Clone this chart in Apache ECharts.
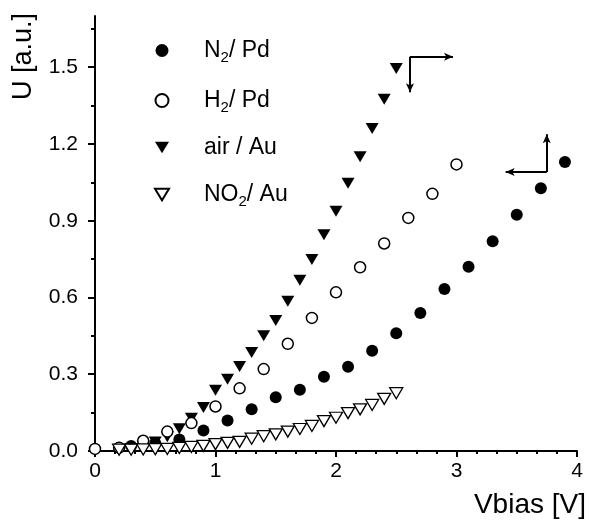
<!DOCTYPE html>
<html>
<head>
<meta charset="utf-8">
<script src="https://cdn.jsdelivr.net/npm/echarts@6/dist/echarts.min.js"></script>
<style>html,body{margin:0;padding:0;background:#fff;}#c{width:589px;height:521px;}</style>
</head>
<body>
<div id="c"></div>
<script>
// ---- data ----
const seriesNames = ['N2/ Pd', 'H2/ Pd', 'air / Au', 'NO2/ Au'];
const legendLabels = ['{a|N}{s|2}{a|/ Pd}', '{a|H}{s|2}{a|/ Pd}', '{a|air / Au}', '{a|NO}{s|2}{a|/ Au}'];

const n2pdX = [0.3, 0.5, 0.7, 0.9, 1.1, 1.3, 1.5, 1.7, 1.9, 2.1, 2.3, 2.5, 2.7, 2.9, 3.1, 3.3, 3.5, 3.7, 3.9];
const n2pdY = [0.02, 0.03, 0.045, 0.08, 0.119, 0.163, 0.21, 0.239, 0.29, 0.329, 0.392, 0.46, 0.539, 0.633, 0.72, 0.82, 0.923, 1.027, 1.129];

const h2pdX = [0, 0.2, 0.4, 0.6, 0.8, 1.0, 1.2, 1.4, 1.6, 1.8, 2.0, 2.2, 2.4, 2.6, 2.8, 3.0];
const h2pdY = [0.008, 0.013, 0.04, 0.076, 0.109, 0.174, 0.245, 0.32, 0.419, 0.52, 0.62, 0.718, 0.811, 0.911, 1.005, 1.12];

const airAuX = [0.2, 0.3, 0.4, 0.5, 0.6, 0.7, 0.8, 0.9, 1.0, 1.1, 1.2, 1.3, 1.4, 1.5, 1.6, 1.7, 1.8, 1.9, 2.0, 2.1, 2.2, 2.3, 2.4, 2.5];
const airAuY = [0.004, 0.01, 0.02, 0.035, 0.056, 0.087, 0.128, 0.17, 0.237, 0.28, 0.33, 0.385, 0.45, 0.51, 0.585, 0.667, 0.748, 0.845, 0.937, 1.046, 1.15, 1.26, 1.375, 1.495];

const no2AuX = [0.2, 0.3, 0.4, 0.5, 0.6, 0.7, 0.8, 0.9, 1.0, 1.1, 1.2, 1.3, 1.4, 1.5, 1.6, 1.7, 1.8, 1.9, 2.0, 2.1, 2.2, 2.3, 2.4, 2.5];
const no2AuY = [0.005, 0.005, 0.006, 0.007, 0.008, 0.012, 0.016, 0.02, 0.027, 0.032, 0.036, 0.048, 0.058, 0.065, 0.076, 0.086, 0.098, 0.117, 0.13, 0.148, 0.163, 0.18, 0.204, 0.226];

const xTicks = [0, 1, 2, 3, 4];
const yTicks = [0.0, 0.3, 0.6, 0.9, 1.2, 1.5];
const yMinorTicks = [0.15, 0.45, 0.75, 1.05, 1.35, 1.65];

// annotation arrows (data coords): [x1, y1, x2, y2]
const arrowLines = [
  [2.614, 1.541, 2.971, 1.541],
  [2.614, 1.541, 2.614, 1.402],
  [3.749, 1.090, 3.749, 1.238],
  [3.749, 1.090, 3.408, 1.090]
];

// ---- chart ----
const FONT = 'Liberation Sans';
const downTri = 'path://M0,0 L12,0 L6,10 Z';
const zip = (xs, ys) => xs.map((x, i) => [x, ys[i]]);

const chart = echarts.init(document.getElementById('c'));
const labelMap = {};
seriesNames.forEach((n, i) => labelMap[n] = legendLabels[i]);

chart.setOption({
  animation: false,
  backgroundColor: '#fff',
  grid: { left: 95, right: 12, top: 16, bottom: 70, containLabel: false },
  legend: {
    data: seriesNames,
    orient: 'vertical',
    left: 149,
    top: 31,
    itemWidth: 14,
    itemHeight: 13,
    itemGap: 21,
    formatter: n => labelMap[n],
    textStyle: {
      padding: [0, 0, 0, 30],
      rich: {
        a: { fontFamily: FONT, fontSize: 23, color: '#000', lineHeight: 26 },
        s: { fontFamily: FONT, fontSize: 15, color: '#000', lineHeight: 26, padding: [14, 0, 0, 0] }
      }
    }
  },
  xAxis: {
    type: 'value', min: 0, max: 4, interval: 1,
    axisLine: { lineStyle: { color: '#000', width: 2 } },
    axisTick: { length: 6, lineStyle: { color: '#000', width: 2 } },
    minorTick: { show: true, splitNumber: 6, length: 3, lineStyle: { color: '#000', width: 2 } },
    splitLine: { show: false },
    axisLabel: { fontFamily: FONT, fontSize: 21, color: '#000', margin: 10 }
  },
  yAxis: [{
    type: 'value', min: 0, max: 1.7,
    axisLine: { show: true, lineStyle: { color: '#000', width: 2 } },
    axisTick: { show: true, length: 7, customValues: yTicks, lineStyle: { color: '#000', width: 2 } },
    axisLabel: { customValues: yTicks, formatter: v => v.toFixed(1), fontFamily: FONT, fontSize: 21, color: '#000', margin: 17 },
    splitLine: { show: false }
  }, {
    type: 'value', min: 0, max: 1.7, position: 'left',
    axisLine: { show: false },
    axisTick: { show: true, length: 4, customValues: yMinorTicks, lineStyle: { color: '#000', width: 2 } },
    axisLabel: { show: false },
    splitLine: { show: false }
  }],
  graphic: [
    { type: 'text', x: 37, y: 13, rotation: Math.PI / 2,
      style: { text: 'U [a.u.]', font: '27px "Liberation Sans"', fill: '#000', align: 'right', verticalAlign: 'bottom' } },
    { type: 'text', x: 586, y: 505,
      style: { text: 'Vbias [V]', font: '28px "Liberation Sans"', fill: '#000', align: 'right', verticalAlign: 'middle' } }
  ],
  series: [
    { name: seriesNames[0], type: 'scatter', data: zip(n2pdX, n2pdY), symbol: 'circle', symbolSize: 12,
      itemStyle: { color: '#000', opacity: 1 }, z: 3 },
    { name: seriesNames[1], type: 'scatter', data: zip(h2pdX, h2pdY), symbol: 'circle', symbolSize: 11,
      itemStyle: { color: '#fff', borderColor: '#000', borderWidth: 1.5, opacity: 1 }, z: 4 },
    { name: seriesNames[2], type: 'scatter', data: zip(airAuX, airAuY), symbol: downTri, symbolSize: [13, 11],
      itemStyle: { color: '#000', opacity: 1 }, z: 2,
      markLine: {
        silent: true, symbol: ['none', 'arrow'], symbolSize: [6, 9],
        label: { show: false },
        lineStyle: { color: '#000', width: 2, type: 'solid' },
        data: arrowLines.map(a => [{ coord: [a[0], a[1]] }, { coord: [a[2], a[3]] }])
      } },
    { name: seriesNames[3], type: 'scatter', data: zip(no2AuX, no2AuY), symbol: downTri, symbolSize: [13, 11],
      itemStyle: { color: '#fff', borderColor: '#000', borderWidth: 1.3, opacity: 1 }, z: 5 }
  ]
});
</script>
</body>
</html>
